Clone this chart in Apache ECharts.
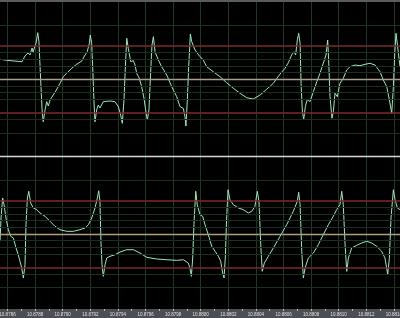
<!DOCTYPE html>
<html><head><meta charset="utf-8">
<script src="https://cdn.jsdelivr.net/npm/echarts@6/dist/echarts.min.js"></script>
<style>html,body{margin:0;padding:0;background:#000;overflow:hidden}#c{width:400px;height:318px}</style>
</head><body><div id="c"></div><script>
// time in microseconds
const topTime = [
10878546,10878596,10878647,10878705,10878727,10878749,10878763,10878778,10878785,10878807,
10878819,10878828,10878836,10878843,10878852,10878859,10878872,10878884,10878896,10878908,
10878932,10878968,10879004,10879029,10879065,10879101,10879138,10879162,10879178,10879193,
10879200,10879210,10879217,10879227,10879234,10879246,10879258,10879270,10879294,10879343,
10879379,10879403,10879420,10879432,10879444,10879454,10879464,10879475,10879493,10879512,
10879524,10879536,10879555,10879572,10879589,10879601,10879613,10879625,10879638,10879647,
10879657,10879669,10879693,10879717,10879754,10879790,10879826,10879850,10879874,10879886,
10879893,10879903,10879913,10879925,10879935,10879959,10879995,10880019,10880043,10880091,
10880140,10880188,10880236,10880285,10880333,10880381,10880430,10880478,10880526,10880575,
10880611,10880635,10880659,10880676,10880688,10880700,10880710,10880720,10880727,10880736,
10880746,10880758,10880772,10880792,10880816,10880841,10880864,10880888,10880908,10880920,
10880927,10880937,10880951,10880961,10880973,10880990,10881009,10881033,10881058,10881082,
10881118,10881154,10881191,10881227,10881263,10881299,10881323,10881348,10881367,10881384,
10881396,10881406,10881415,10881427,10881444];
const topValue = [
2.99,2.84,2.73,2.63,3.48,3.93,3.63,4.67,4.07,5.42,
6.96,5.61,1.88,-1.30,-5.03,-6.33,-4.58,-3.34,-3.99,-3.09,
-2.34,-1.10,0.39,0.90,1.64,2.24,2.73,3.63,4.12,5.37,
6.61,5.37,1.88,-3.54,-6.33,-4.58,-3.84,-4.28,-3.34,-3.24,
-3.34,-4.09,-5.33,-6.57,-3.09,1.88,6.12,4.63,2.63,2.78,
2.13,0.90,0.15,-1.10,-2.84,-4.58,-6.07,-4.58,1.39,5.12,
6.36,4.12,2.88,1.88,0.64,-1.10,-2.60,-4.09,-4.33,-5.58,
-6.97,-3.09,1.88,6.76,5.61,4.37,3.37,2.88,1.88,1.13,
0.39,-0.51,-1.34,-2.09,-2.75,-2.94,-2.34,-1.49,-0.60,0.79,
1.64,2.48,3.63,4.12,3.63,5.87,6.87,5.37,-0.60,-4.58,
-6.07,-4.09,-2.99,-3.34,-1.85,-0.36,0.90,2.39,3.63,5.87,
2.88,-2.60,-5.82,-4.84,-2.09,-2.60,-0.60,0.15,1.39,1.88,
2.13,2.03,2.24,2.39,2.13,1.13,-0.10,-1.10,-3.09,-5.07,
-1.10,3.88,6.87,4.87,1.88];
const bottomTime = [
10878546,10878553,10878565,10878575,10878589,10878606,10878623,10878642,10878662,10878678,
10878691,10878703,10878715,10878727,10878734,10878744,10878754,10878768,10878787,10878812,
10878836,10878872,10878908,10878944,10878980,10879029,10879077,10879125,10879162,10879186,
10879210,10879234,10879251,10879261,10879270,10879277,10879285,10879294,10879307,10879319,
10879343,10879379,10879415,10879464,10879512,10879560,10879609,10879681,10879754,10879826,
10879874,10879910,10879922,10879932,10879942,10879951,10879964,10879975,10879995,10880014,
10880031,10880055,10880080,10880104,10880128,10880145,10880159,10880169,10880178,10880188,
10880198,10880212,10880236,10880273,10880309,10880345,10880370,10880393,10880410,10880422,
10880435,10880446,10880461,10880490,10880526,10880575,10880623,10880671,10880700,10880710,
10880720,10880732,10880744,10880756,10880780,10880816,10880852,10880888,10880925,10880961,
10880985,10881009,10881022,10881033,10881046,10881058,10881070,10881094,10881130,10881166,
10881203,10881239,10881275,10881311,10881335,10881355,10881367,10881379,10881396,10881408,
10881425,10881444];
const bottomValue = [
-1.09,2.39,5.37,4.37,2.39,0.64,-0.34,-0.60,-2.09,-3.09,
-2.84,-5.07,-6.57,-4.58,1.39,5.37,6.37,4.63,3.88,3.63,
3.13,2.64,1.90,1.15,0.64,0.40,0.40,0.64,0.90,1.39,
2.39,3.88,5.37,6.46,4.88,-1.09,-4.58,-6.31,-4.58,-3.58,
-3.33,-3.09,-2.69,-2.34,-2.34,-2.84,-3.48,-3.73,-3.84,-3.93,
-3.84,-4.33,-5.07,-6.31,-3.58,1.39,6.37,4.37,2.88,2.64,
1.39,-0.10,-1.84,-2.58,-3.33,-4.07,-5.82,-6.57,-3.58,2.39,
6.61,5.12,4.37,3.88,3.63,3.13,3.39,4.13,6.37,4.88,
-1.60,-5.57,-4.33,-3.33,-2.09,-0.34,1.39,3.39,4.88,6.22,
4.37,-2.58,-6.57,-5.07,-3.58,-2.84,-1.60,-0.10,1.39,2.64,
3.63,4.37,6.37,4.37,-1.60,-5.57,-3.58,-2.09,-1.69,-1.34,
-1.09,-1.34,-1.84,-2.58,-3.58,-6.07,-3.58,2.39,6.61,5.12,
3.88,3.63];
const gridLevels = [8, 4, 3, 2, 1, -1, -2, -3, -6, -8];
const limitLevels = [5, -5];
const centerLevels = [0];
const tickStart = 10878400;   // first tick (10.8784 s)
const tickStep = 200;         // 0.0002 s
const timeEnd = 10881444;

const chart = echarts.init(document.getElementById('c'), null, {renderer: 'canvas'});
const zip = (t, v) => t.map((x, i) => [x, v[i]]);
function levelLines() {
  const d = [];
  gridLevels.forEach(v => d.push({yAxis: v, lineStyle: {color: '#18301c', width: 1, type: 'solid'}}));
  limitLevels.forEach(v => d.push({yAxis: v, lineStyle: {color: '#7c2a2a', width: 1.6, type: 'solid'}}));
  centerLevels.forEach(v => d.push({yAxis: v, lineStyle: {color: '#ab9f83', width: 1.3, type: 'solid'}}));
  return d;
}
function xAxisBase(i) {
  return {
    gridIndex: i, type: 'value', min: tickStart, max: timeEnd, interval: tickStep,
    splitLine: {show: true, lineStyle: {color: '#1f3824', width: 1}}
  };
}
const option = {
  backgroundColor: '#000',
  animation: false,
  graphic: [
    {type: 'rect', z: -10, shape: {x: 0, y: 0, width: 400, height: 2}, style: {fill: '#5c5c5c'}},
    {type: 'rect', z: -10, shape: {x: 0, y: 309, width: 400, height: 9}, style: {fill: '#4b4e53'}}
  ],
  grid: [
    {left: -20.1, right: 0, top: 2, height: 154, outerBoundsMode: 'none', containLabel: false},
    {left: -20.1, right: 0, top: 157, height: 152, outerBoundsMode: 'none', containLabel: false}
  ],
  xAxis: [
    Object.assign(xAxisBase(0), {
      position: 'bottom',
      axisLine: {show: true, onZero: false, lineStyle: {color: '#d6d6d6', width: 1.3}},
      axisTick: {show: false}, axisLabel: {show: false}
    }),
    Object.assign(xAxisBase(1), {
      position: 'bottom',
      axisLine: {show: false, onZero: false},
      axisTick: {show: true, length: 2, lineStyle: {color: '#bdbdbd'}},
      minorTick: {show: true, splitNumber: 2, length: 2, lineStyle: {color: '#bdbdbd'}},
      axisLabel: {show: true, fontSize: 4.5, color: '#e0e0e0', margin: 3, showMaxLabel: false,
        fontFamily: 'Liberation Sans',
        formatter: v => (v / 1e6).toFixed(4)}
    })
  ],
  yAxis: [
    {gridIndex: 0, type: 'value', min: -11.45, max: 11.54, show: false},
    {gridIndex: 1, type: 'value', min: -11.19, max: 11.49, show: false}
  ],
  series: [
    {type: 'line', xAxisIndex: 0, yAxisIndex: 0, data: [], silent: true,
     markLine: {silent: true, symbol: ['none', 'none'], label: {show: false}, data: levelLines()}},
    {type: 'line', xAxisIndex: 1, yAxisIndex: 1, data: [], silent: true,
     markLine: {silent: true, symbol: ['none', 'none'], label: {show: false}, data: levelLines()}},
    {type: 'line', xAxisIndex: 0, yAxisIndex: 0, data: zip(topTime, topValue),
     showSymbol: false, lineStyle: {color: '#9fe6bc', width: 1}},
    {type: 'line', xAxisIndex: 1, yAxisIndex: 1, data: zip(bottomTime, bottomValue),
     showSymbol: false, lineStyle: {color: '#9fe6bc', width: 1}}
  ]
};
chart.setOption(option);
</script></body></html>
